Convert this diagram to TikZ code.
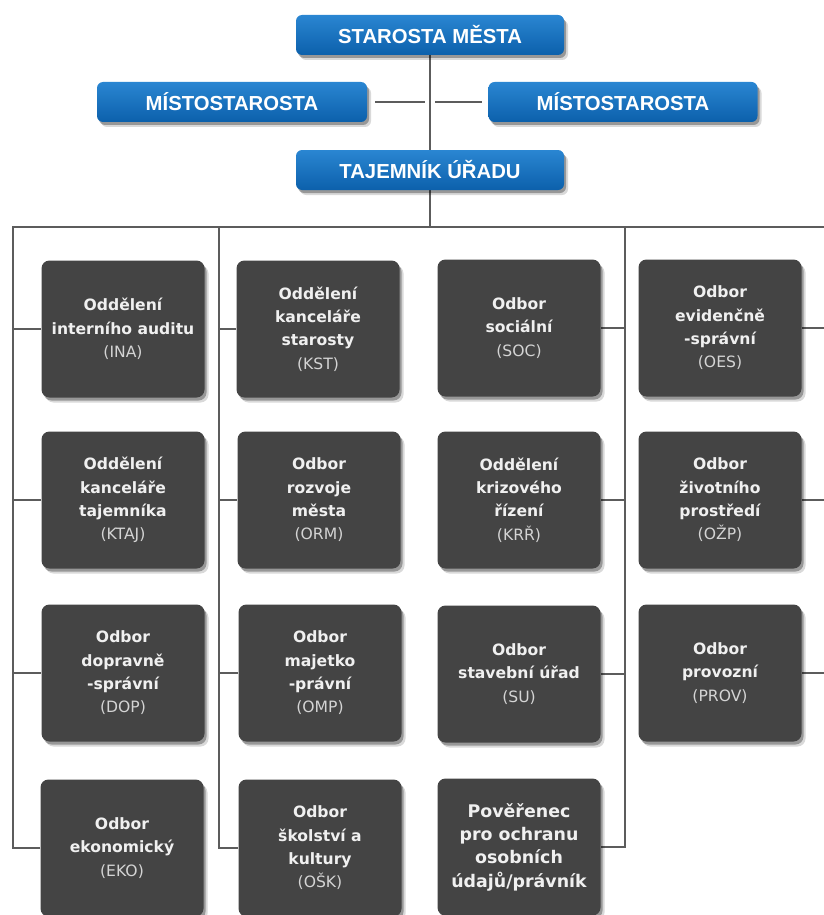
\documentclass[tikz,border=0pt]{standalone}
\usepackage{fontspec}
\newfontfamily\headfont{Liberation Sans}
\newfontfamily\deptfont{DejaVu Sans}
\usepackage{xcolor}
\definecolor{headBlueTop}{HTML}{2A86D2}
\definecolor{headBlueBot}{HTML}{0C60AB}
\definecolor{deptGray}{HTML}{444444}
\definecolor{lineGray}{HTML}{5C5C5C}
\definecolor{abbrGray}{HTML}{D4D4D4}
\usetikzlibrary{shadows, backgrounds}
\newcommand{\abbr}[1]{{\mdseries\color{abbrGray}#1}}

\begin{document}
\begin{tikzpicture}[x=1pt, y=-1pt,
  head/.style={rectangle, rounded corners=6pt, top color=headBlueTop,
               bottom color=headBlueBot, minimum height=40pt, text=white,
               font=\headfont\bfseries\fontsize{20.3}{24}\selectfont,
               drop shadow={shadow xshift=2pt, shadow yshift=-3pt, opacity=0.3, fill=black},
               drop shadow={shadow xshift=4pt, shadow yshift=-5pt, opacity=0.15, fill=black}},
  dept/.style={rectangle, rounded corners=8pt, fill=deptGray,
               minimum width=163pt, minimum height=137pt, align=center,
               text=white!94!black,
               font=\deptfont\bfseries\fontsize{15.6}{23.3}\selectfont,
               drop shadow={shadow xshift=2pt, shadow yshift=-3pt, opacity=0.3, fill=black},
               drop shadow={shadow xshift=4pt, shadow yshift=-5pt, opacity=0.15, fill=black}},
  link/.style={draw=lineGray, line width=2.8pt},
]
\useasboundingbox (0,0) rectangle (824,915);

% Leadership
\node[head, minimum width=268pt] (star) at (430,35)  {STAROSTA MĚSTA};
\node[head, minimum width=270pt] (misL) at (232,102) {MÍSTOSTAROSTA};
\node[head, minimum width=269pt] (misR) at (623,102) {MÍSTOSTAROSTA};
\node[head, minimum width=268pt] (taj)  at (430,170) {TAJEMNÍK ÚŘADU};

% Column 1
\node[dept] (ina)  at (123,329) {Oddělení\\interního auditu\\\abbr{(INA)}};
\node[dept] (ktaj) at (123,500) {Oddělení\\kanceláře\\tajemníka\\\abbr{(KTAJ)}};
\node[dept] (dop)  at (123,673) {Odbor\\dopravně\\-správní\\\abbr{(DOP)}};
\node[dept] (eko)  at (122,848) {Odbor\\ekonomický\\\abbr{(EKO)}};

% Column 2
\node[dept] (kst)  at (318,329) {Oddělení\\kanceláře\\starosty\\\abbr{(KST)}};
\node[dept] (orm)  at (319,500) {Odbor\\rozvoje\\města\\\abbr{(ORM)}};
\node[dept] (omp)  at (320,673) {Odbor\\majetko\\-právní\\\abbr{(OMP)}};
\node[dept] (osk)  at (320,848) {Odbor\\školství a\\kultury\\\abbr{(OŠK)}};

% Column 3
\node[dept] (soc)  at (519,328) {Odbor\\sociální\\\abbr{(SOC)}};
\node[dept] (krr)  at (519,500) {Oddělení\\krizového\\řízení\\\abbr{(KRŘ)}};
\node[dept] (su)   at (519,674) {Odbor\\stavební úřad\\\abbr{(SU)}};
\node[dept, font=\deptfont\bfseries\fontsize{17.4}{23.3}\selectfont]
      (pov)  at (519,847) {Pověřenec\\pro ochranu\\osobních\\údajů/právník};

% Column 4
\node[dept] (oes)  at (720,328) {Odbor\\evidenčně\\-správní\\\abbr{(OES)}};
\node[dept] (ozp)  at (720,500) {Odbor\\životního\\prostředí\\\abbr{(OŽP)}};
\node[dept] (prov) at (720,673) {Odbor\\provozní\\\abbr{(PROV)}};

% Branch points
\coordinate (gapL) at (425,102);
\coordinate (gapR) at (435,102);
\coordinate (busL) at (13,227);
\coordinate (c2)   at (219,227);
\coordinate (c3)   at (625,227);
\coordinate (c4)   at (827,227);

% Connectors
\begin{scope}[on background layer]
\draw[link] (star) -- (taj);
\draw[link] ([xshift=8pt]misL.east) -- (gapL);
\draw[link] (gapR) -- ([xshift=-6pt]misR.west);
\draw[link] (taj) -- (taj.south |- busL);
\draw[link] (eko.west) -| (busL) -- (c4) |- (prov.east);
\draw[link] (c2) |- (osk.west);
\draw[link] (c3) |- (pov.east);
\draw[link] (ina.west -| busL)  -- (ina.west);
\draw[link] (ktaj.west -| busL) -- (ktaj.west);
\draw[link] (dop.west -| busL)  -- (dop.west);
\draw[link] (kst.west -| c2) -- (kst.west);
\draw[link] (orm.west -| c2) -- (orm.west);
\draw[link] (omp.west -| c2) -- (omp.west);
\draw[link] (soc.east) -- (soc.east -| c3);
\draw[link] (krr.east) -- (krr.east -| c3);
\draw[link] (su.east)  -- (su.east -| c3);
\draw[link] (oes.east) -- (oes.east -| c4);
\draw[link] (ozp.east) -- (ozp.east -| c4);
\end{scope}

\end{tikzpicture}
\end{document}
